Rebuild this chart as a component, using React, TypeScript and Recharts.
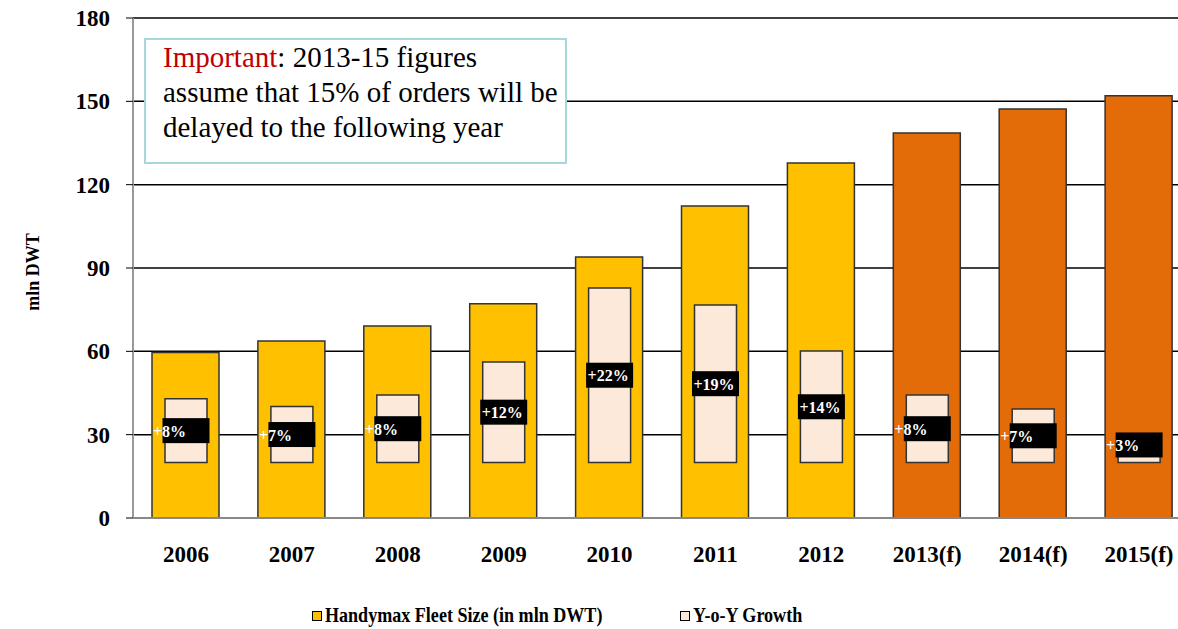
import { Bar, BarChart, CartesianGrid, Cell, LabelList, XAxis, YAxis } from 'recharts';

const years = ['2006', '2007', '2008', '2009', '2010', '2011', '2012', '2013(f)', '2014(f)', '2015(f)'];
const fleetSize = [59.6, 63.7, 69.1, 77.1, 94.0, 112.3, 127.8, 138.6, 147.2, 152.0];
const growthTop = [42.9, 40.1, 44.3, 56.2, 82.8, 76.7, 60.1, 44.3, 39.2, 22.5];
const growthLabels = ['+8%', '+7%', '+8%', '+12%', '+22%', '+19%', '+14%', '+8%', '+7%', '+3%'];
const isForecast = [false, false, false, false, false, false, false, true, true, true];
const growthBase = 20;
const yTicks = [0, 30, 60, 90, 120, 150, 180];

const serif = '"Liberation Serif", "Times New Roman", serif';

const chartData = years.map((year, i) => ({
	year,
	fleet: fleetSize[i],
	growth: [growthBase, growthTop[i]],
	label: growthLabels[i],
}));

// black tag with white text, sits in the middle of the growth bar
const GrowthTag = (props: any) => {
	const { x, y, width, height, value } = props;
	const top = Math.min(y, y + height);
	const bottom = Math.max(y, y + height);
	const cx = x + width / 2;
	const cy = Math.min((top + bottom) / 2, bottom - 17.5);
	const textX = cx + (String(value).length > 3 ? -22 : -33);
	return (
		<g>
			<rect x={cx - 23.5} y={cy - 12.5} width={47} height={25} fill="#000" />
			<text x={textX} y={cy + 6} fill="#fff" fontFamily={serif} fontWeight="bold" fontSize={16}>
				{value}
			</text>
		</g>
	);
};

const legendText = {
	display: 'inline-block',
	transform: 'scaleX(0.86)',
	transformOrigin: 'left center',
};

export default function App() {
	return (
		<div style={{ position: 'absolute', left: 0, top: 0, width: 1178, height: 629, overflow: 'hidden', background: '#fff' }}>
			<BarChart
				width={1200}
				height={629}
				data={chartData}
				margin={{ top: 18, right: 8, left: 8, bottom: 81 }}
				style={{ fontFamily: serif }}
			>
				<CartesianGrid vertical={false} stroke="#000" strokeWidth={1.5} />
				<XAxis
					xAxisId="main"
					dataKey="year"
					height={30}
					tickLine={false}
					tickSize={0}
					tickMargin={28}
					axisLine={{ stroke: '#888', strokeWidth: 2 }}
					tick={{ fill: '#000', fontSize: 23, fontWeight: 'bold', fontFamily: serif }}
					interval={0}
				/>
				<XAxis xAxisId="inner" dataKey="year" hide height={0} />
				<YAxis
					domain={[0, 180]}
					ticks={yTicks}
					width={125}
					tickSize={7}
					tickMargin={16}
					tickLine={{ stroke: '#000' }}
					axisLine={{ stroke: '#999', strokeWidth: 2 }}
					tick={{ fill: '#000', fontSize: 23, fontWeight: 'bold', fontFamily: serif }}
					label={{
						value: 'mln DWT',
						angle: -90,
						position: 'insideLeft',
						offset: 25,
						dy: 4,
						style: { fill: '#000', fontSize: 18, fontWeight: 'bold', fontFamily: serif, textAnchor: 'middle' },
					}}
				/>
				<Bar xAxisId="main" dataKey="fleet" barSize={67} stroke="#333" strokeWidth={1.5} isAnimationActive={false}>
					{chartData.map((d, i) => (
						<Cell key={d.year} fill={isForecast[i] ? '#E36C09' : '#FFC000'} />
					))}
				</Bar>
				<Bar xAxisId="inner" dataKey="growth" barSize={42} fill="#FDE9D9" stroke="#333" strokeWidth={1.5} isAnimationActive={false}>
					<LabelList dataKey="label" content={GrowthTag} />
				</Bar>
			</BarChart>

			{/* note box */}
			<div
				style={{
					position: 'absolute',
					left: 144,
					top: 38,
					width: 402,
					height: 122,
					border: '2px solid #A9D6DA',
					background: '#fff',
					fontFamily: serif,
					fontSize: 29,
					lineHeight: '35px',
					color: '#000',
					padding: '0 0 0 17px',
					boxSizing: 'content-box',
					whiteSpace: 'nowrap',
				}}
			>
				<span style={{ color: '#C00000' }}>Important</span>: 2013-15 figures
				<br />
				assume that 15% of orders will be
				<br />
				delayed to the following year
			</div>

			{/* legend */}
			<div style={{ position: 'absolute', left: 312, top: 603, fontFamily: serif, fontWeight: 'bold', fontSize: 21, whiteSpace: 'nowrap', display: 'flex', alignItems: 'center' }}>
				<span style={{ display: 'inline-block', width: 8, height: 8, background: '#FFC000', border: '1px solid #000', marginRight: 3 }} />
				<span style={legendText}>Handymax Fleet Size (in mln DWT)</span>
			</div>
			<div style={{ position: 'absolute', left: 680, top: 603, fontFamily: serif, fontWeight: 'bold', fontSize: 21, whiteSpace: 'nowrap', display: 'flex', alignItems: 'center' }}>
				<span style={{ display: 'inline-block', width: 8, height: 8, background: '#FDE9D9', border: '1px solid #000', marginRight: 3 }} />
				<span style={legendText}>Y-o-Y Growth</span>
			</div>
		</div>
	);
}
